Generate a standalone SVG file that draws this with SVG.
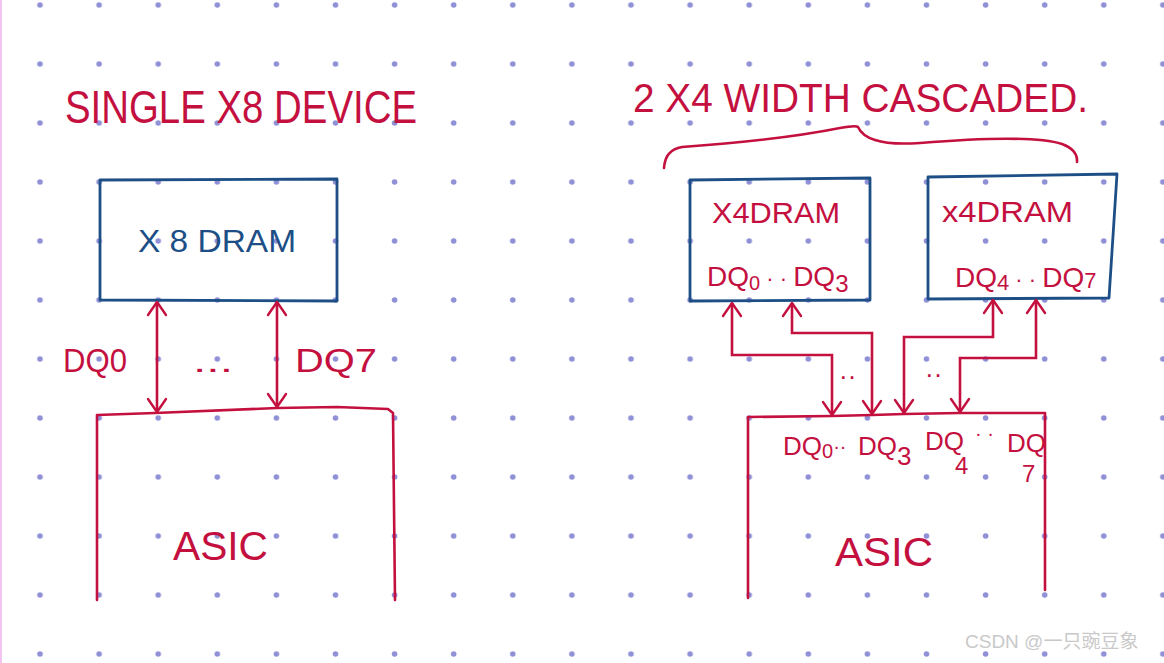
<svg xmlns="http://www.w3.org/2000/svg" width="1164" height="663" viewBox="0 0 1164 663">
<defs>
<pattern id="dots" x="0" y="0" width="59.1" height="59" patternUnits="userSpaceOnUse">
<circle cx="40" cy="5" r="2.8" fill="#8f90d6"/>
</pattern>
<marker id="ah" viewBox="-16 -12 20 24" markerWidth="20" markerHeight="24" refX="0" refY="0" orient="auto-start-reverse" markerUnits="userSpaceOnUse">
<path d="M-13,-9 L0,0 L-13,9" fill="none" stroke="#c4103f" stroke-width="2.4" stroke-linecap="round" stroke-linejoin="round"/>
</marker>
<style>
.red{fill:none;stroke:#c4103f;stroke-width:2.6;stroke-linejoin:round;stroke-linecap:round}
.blue{fill:none;stroke:#1d4f86;stroke-width:2.8;stroke-linejoin:round;stroke-linecap:round}
.t{font-family:"Liberation Sans","DejaVu Sans",sans-serif;fill:#c4103f}
.tb{font-family:"Liberation Sans","DejaVu Sans",sans-serif;fill:#1d4f86}
.arr{fill:none;stroke:#c4103f;stroke-width:2.6;marker-start:url(#ah);marker-end:url(#ah)}
.wm{font-family:"Liberation Sans","Noto Sans CJK SC",sans-serif;fill:#c9c9c9}
</style>
</defs>
<rect width="1164" height="663" fill="#ffffff"/>
<rect width="1164" height="663" fill="url(#dots)"/>
<rect x="0" y="0" width="2" height="663" fill="#f2c4ef"/>

<g id="title-left">
<text class="t" x="65" y="123" font-size="46" textLength="352" lengthAdjust="spacingAndGlyphs">SINGLE X8 DEVICE</text>
</g>
<g id="title-right">
<text class="t" x="633" y="112" font-size="40" textLength="455" lengthAdjust="spacingAndGlyphs">2 X4 WIDTH  CASCADED.</text>
<path class="red" d="M664,168 Q665,150 682,147 Q780,140 840,128 Q856,125 858,127 Q862,136 875,140 Q890,145 920,143 Q1030,134 1062,144 Q1078,150 1077,162"/>
</g>

<g id="x8dram">
<path class="blue" d="M100,180 L337,179 L337,301 L100,300 Z"/>
<text class="tb" x="217" y="252" font-size="31" text-anchor="middle" textLength="158" lengthAdjust="spacingAndGlyphs">X 8 DRAM</text>
</g>

<g id="asic-left">
<path class="red" d="M97,600 L97,415 L155,413 L277,408 L337,407 L388,409 L393,413 L395,600"/>
<text class="t" x="173" y="560" font-size="40" textLength="95" lengthAdjust="spacingAndGlyphs">ASIC</text>
</g>

<g id="x4dram-a">
<path class="blue" d="M690,180 L870,178 L870,300 L690,301 Z"/>
<text class="t" x="712" y="223" font-size="29" textLength="128" lengthAdjust="spacingAndGlyphs">X4DRAM</text>
<text class="t" x="707" y="286" font-size="28">DQ<tspan font-size="20" dy="4">0</tspan><tspan dy="-4" font-size="22"> · · </tspan>DQ<tspan font-size="24" dy="6">3</tspan></text>
</g>

<g id="x4dram-b">
<path class="blue" d="M928,177 L1117,174 L1109,298 L928,299 Z"/>
<text class="t" x="942" y="222" font-size="29" textLength="131" lengthAdjust="spacingAndGlyphs">x4DRAM</text>
<text class="t" x="955" y="287" font-size="28">DQ<tspan font-size="22" dy="3">4</tspan><tspan dy="-3" font-size="22"> · · </tspan>DQ<tspan font-size="22" dy="1">7</tspan></text>
</g>

<g id="asic-right">
<path class="red" d="M748,598 L748,417 L832,416 L872,415 L904,414 L960,413 L1045,413 L1045,590"/>
<text class="t" x="835" y="566" font-size="40" textLength="98" lengthAdjust="spacingAndGlyphs">ASIC</text>
<text class="t" x="783" y="455" font-size="26">DQ<tspan font-size="20" dy="3">0</tspan><tspan dy="-5" font-size="20">··</tspan></text>
<text class="t" x="858" y="455" font-size="26">DQ<tspan font-size="26" dy="10">3</tspan></text>
<text class="t" x="925" y="450" font-size="26">DQ<tspan x="955" dy="24" font-size="24">4</tspan></text>
<text class="t" x="975" y="440" font-size="20">·  ·</text>
<text class="t" x="1007" y="452" font-size="26">DQ<tspan x="1022" dy="30" font-size="24">7</tspan></text>
</g>

<g id="connectors">
<path class="arr" d="M157,302 L157,412"/>
<path class="arr" d="M277,302 L277,407"/>
<path class="arr" d="M732,303 L732,355 L832,355 L832,415"/>
<path class="arr" d="M792,303 L792,333 L872,333 L872,414"/>
<path class="arr" d="M993,300 L993,337 L904,337 L904,413"/>
<path class="arr" d="M1036,300 L1036,358 L960,358 L960,412"/>
</g>

<g id="labels">
<text class="t" x="63" y="372" font-size="34" textLength="64" lengthAdjust="spacingAndGlyphs">DQ0</text>
<text class="t" x="193" y="372" font-size="30" textLength="40" lengthAdjust="spacingAndGlyphs">...</text>
<text class="t" x="295" y="372" font-size="34" textLength="82" lengthAdjust="spacingAndGlyphs">DQ7</text>
<text class="t" x="839" y="385" font-size="26">··</text>
<text class="t" x="925" y="383" font-size="26">··</text>
</g>

<text class="wm" x="965" y="648" font-size="19">CSDN @一只豌豆象</text>
</svg>
